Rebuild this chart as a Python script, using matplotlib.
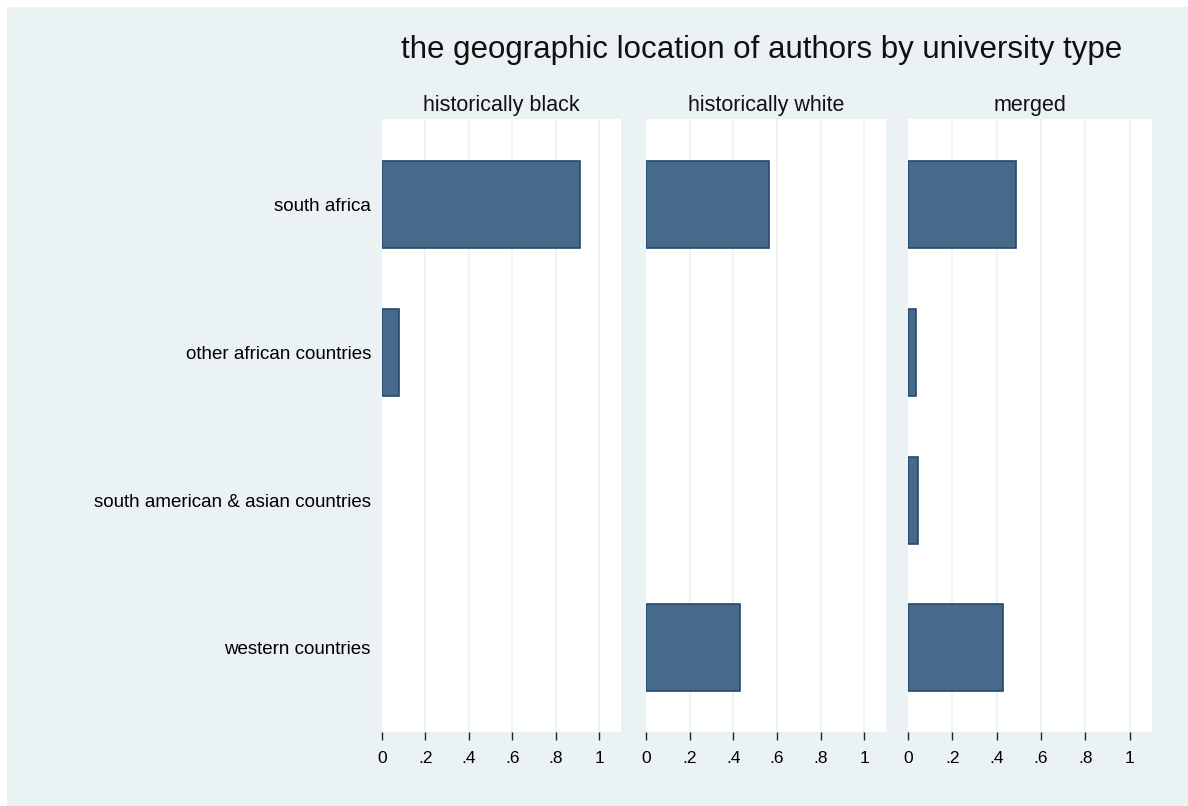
import numpy as np
import matplotlib
matplotlib.use('Agg')
import matplotlib.pyplot as plt
from matplotlib.patches import Rectangle

plt.rcParams['font.family'] = ['Liberation Sans', 'DejaVu Sans']

regions = ['south africa', 'other african countries',
           'south american & asian countries', 'western countries']
panels = ['historically black', 'historically white', 'merged']
hist_black = [0.91, 0.08, 0.0, 0.0]
hist_white = [0.565, 0.0, 0.0, 0.43]
merged = [0.485, 0.035, 0.045, 0.43]
values = [hist_black, hist_white, merged]
tick_vals = [0, 0.2, 0.4, 0.6, 0.8, 1]
tick_labels = ['0', '.2', '.4', '.6', '.8', '1']

bg = '#eaf2f3'
bar_fill = '#476a8a'
bar_edge = '#24496e'

W, H = 1188, 806
fig = plt.figure(figsize=(W / 100, H / 100), dpi=100, facecolor='white')
fig.patches.append(Rectangle((7 / W, 0), 1 - 7 / W, 1 - 7 / H,
                             transform=fig.transFigure, facecolor=bg,
                             edgecolor='none', zorder=-10))

# panel left / right edges in pixels
edges = [(382, 621), (646, 886), (908, 1152)]
top, bottom = 119, 732
ypos = np.arange(len(regions))

for i, (l, r) in enumerate(edges):
    ax = fig.add_axes([l / W, 1 - bottom / H, (r - l) / W, (bottom - top) / H])
    ax.set_facecolor('white')
    vals = np.array(values[i])
    keep = vals > 0  # stata draws nothing for empty categories
    ax.barh(ypos[keep], vals[keep], height=0.59, color=bar_fill,
            edgecolor=bar_edge, linewidth=1.2, zorder=3)
    ax.set_xlim(0, 1.1)
    ax.set_ylim(3.57, -0.58)
    ax.set_xticks(tick_vals)
    ax.set_xticklabels(tick_labels, fontsize=12.5)
    for x in tick_vals[1:]:
        ax.axvline(x, color=bg, linewidth=1.2, zorder=1)
    ax.tick_params(axis='x', length=6, width=1, color='#222222', pad=8)
    for s in ax.spines.values():
        s.set_visible(False)
    if i == 0:
        ax.set_yticks(ypos)
        ax.set_yticklabels(regions, fontsize=13.5)
        ax.tick_params(axis='y', length=0, pad=8)
    else:
        ax.set_yticks([])
    ax.set_title(panels[i], fontsize=15.5, pad=6, color='#111111')

fig.text(762 / W, 1 - 50 / H, 'the geographic location of authors by university type',
         ha='center', va='center', fontsize=22.5, color='#111111')

fig.savefig('out.png', dpi=100, facecolor='white')
